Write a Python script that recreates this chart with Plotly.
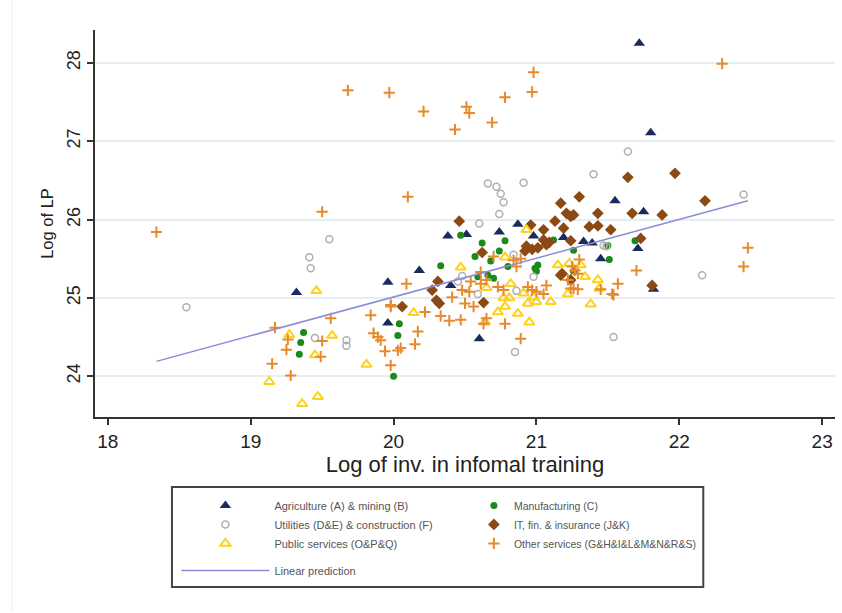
import plotly.graph_objects as go

# ---- data ----
agri_x = [19.32, 19.96, 19.96, 20.38, 20.51, 20.74, 20.87, 20.18, 20.40, 20.60, 20.98, 21.19,
          21.55, 21.75, 21.33, 21.39, 21.71, 21.45, 21.72, 21.80, 21.82]
agri_y = [25.07, 25.20, 24.68, 25.79, 25.81, 25.84, 25.94, 25.35, 25.16, 24.48, 25.79, 25.77,
          26.24, 26.10, 25.72, 25.70, 25.63, 25.50, 28.25, 27.11, 25.11]

manu_x = [19.37, 19.35, 19.34, 20.04, 20.03, 20.00, 20.47, 20.78, 20.62, 20.57, 20.74, 20.68,
          20.33, 20.59, 20.66, 20.70, 20.80, 20.99, 21.01, 21.12, 21.26, 21.00, 21.26, 21.50,
          21.69, 21.51]
manu_y = [24.56, 24.43, 24.28, 24.67, 24.52, 24.00, 25.80, 25.73, 25.70, 25.53, 25.60, 25.47,
          25.41, 25.27, 25.29, 25.25, 25.40, 25.38, 25.42, 25.74, 25.61, 25.34, 25.34, 25.67,
          25.73, 25.49]

util_x = [18.55, 19.55, 19.41, 19.42, 19.45, 19.67, 19.67, 20.66, 20.72, 20.75, 20.77, 20.74,
          20.91, 20.60, 20.84, 20.59, 20.86, 20.48, 20.45, 20.98, 21.40, 21.64, 21.47, 21.49,
          22.45, 22.16, 21.54, 20.85]
util_y = [24.88, 25.75, 25.52, 25.38, 24.49, 24.46, 24.39, 26.46, 26.42, 26.33, 26.22, 26.07,
          26.47, 25.95, 25.55, 25.05, 25.09, 25.28, 25.21, 25.27, 26.58, 26.87, 25.67, 25.66,
          26.32, 25.29, 24.50, 24.31]

it_x = [20.46, 20.62, 20.31, 20.06, 20.27, 20.30, 20.32, 20.63, 20.93, 20.92, 20.97, 21.01,
        20.96, 21.05, 21.13, 21.19, 21.17, 21.21, 21.24, 21.30, 21.05, 21.09, 21.07, 21.17,
        21.64, 21.26, 21.43, 21.67, 21.88, 21.37, 21.43, 21.52, 21.24, 21.73, 21.18, 21.24,
        21.81, 21.97, 22.18]
it_y = [25.98, 25.58, 25.21, 24.89, 25.10, 24.97, 24.93, 24.94, 25.66, 25.60, 25.62, 25.64,
        25.93, 25.87, 25.98, 25.89, 26.21, 26.08, 26.04, 26.29, 25.74, 25.71, 25.68, 25.29,
        26.54, 26.06, 26.08, 26.08, 26.06, 25.91, 25.92, 25.87, 25.73, 25.76, 25.31, 25.23,
        25.16, 26.59, 26.24]

pub_x = [19.46, 19.27, 19.57, 19.45, 19.13, 19.36, 19.47, 19.81, 20.14, 20.47, 20.78, 20.64,
         20.73, 20.78, 20.81, 20.77, 20.87, 20.95, 20.94, 21.00, 21.10, 20.98, 20.91, 20.65,
         20.82, 20.93, 21.15, 21.31, 21.23, 21.34, 21.43, 21.44, 21.38, 21.22]
pub_y = [25.09, 24.53, 24.52, 24.27, 23.93, 23.65, 23.74, 24.15, 24.81, 25.39, 25.52, 24.69,
         24.82, 24.89, 25.00, 25.00, 24.80, 24.69, 24.93, 24.95, 24.95, 25.01, 25.06, 25.13,
         25.18, 25.87, 25.42, 25.42, 25.44, 25.27, 25.23, 25.12, 24.92, 25.05]

oth_x = [18.34, 19.50, 19.68, 20.10, 19.97, 20.21, 20.51, 20.53, 20.43, 20.69, 20.78, 20.97,
         20.98, 22.30, 19.17, 19.56, 19.84, 19.98, 19.50, 19.49, 19.15, 19.28, 19.26, 19.25,
         19.86, 19.89, 19.91, 19.94, 19.98, 20.03, 20.09, 20.61, 20.70, 19.98, 20.22, 20.17,
         20.15, 20.05, 20.33, 20.39, 20.47, 20.41, 20.50, 20.56, 20.65, 20.63, 20.78, 20.89,
         20.94, 20.97, 21.00, 21.05, 21.07, 20.54, 20.61, 20.65, 20.73, 20.77, 20.48, 20.53,
         20.89, 20.84, 20.86, 21.70, 21.25, 21.27, 21.29, 21.30, 21.57, 21.53, 21.26, 21.22,
         21.45, 22.48, 22.45, 21.24, 21.29, 21.54]
oth_y = [25.84, 26.10, 27.65, 26.29, 27.62, 27.38, 27.44, 27.36, 27.15, 27.24, 27.56, 27.63,
         27.88, 27.99, 24.62, 24.74, 24.78, 24.89, 24.45, 24.25, 24.16, 24.01, 24.47, 24.34,
         24.55, 24.50, 24.46, 24.32, 24.14, 24.33, 25.18, 25.33, 25.53, 24.91, 24.82, 24.57,
         24.41, 24.36, 24.77, 24.71, 24.72, 25.01, 24.93, 24.89, 24.74, 24.67, 24.67, 24.48,
         25.14, 25.10, 25.08, 25.05, 25.16, 25.21, 25.18, 25.23, 25.14, 25.10, 25.10, 25.08,
         25.50, 25.48, 25.40, 25.35, 25.40, 25.35, 25.31, 25.49, 25.18, 25.05, 25.12, 25.23,
         25.11, 25.64, 25.40, 25.12, 25.11, 25.04]

fit_x = [18.34, 22.48]
fit_y = [24.19, 26.24]

x_ticks = [18, 19, 20, 21, 22, 23]
y_ticks = [24, 25, 26, 27, 28]

FONT = "Liberation Sans, Arial, sans-serif"

fig = go.Figure()
fig.add_trace(go.Scatter(x=agri_x, y=agri_y, mode="markers", name="Agriculture (A) & mining (B)",
                         legend="legend",
                         marker=dict(symbol="triangle-up", size=10, color="#1c2b5e")))
fig.add_trace(go.Scatter(x=manu_x, y=manu_y, mode="markers", name="Manufacturing (C)",
                         legend="legend2",
                         marker=dict(symbol="circle", size=7, color="#1a8a1a")))
fig.add_trace(go.Scatter(x=util_x, y=util_y, mode="markers", name="Utilities (D&E) & construction (F)",
                         legend="legend",
                         marker=dict(symbol="circle-open", size=7, color="#b0b0b0",
                                     line=dict(width=1.5, color="#b0b0b0"))))
fig.add_trace(go.Scatter(x=it_x, y=it_y, mode="markers", name="IT, fin. & insurance (J&K)",
                         legend="legend2",
                         marker=dict(symbol="diamond", size=9, color="#8b4a14")))
fig.add_trace(go.Scatter(x=pub_x, y=pub_y, mode="markers", name="Public services (O&P&Q)",
                         legend="legend",
                         marker=dict(symbol="triangle-up-open", size=9, color="#ffd21a",
                                     line=dict(width=2, color="#ffd21a"))))
fig.add_trace(go.Scatter(x=oth_x, y=oth_y, mode="markers", name="Other services (G&H&I&L&M&N&R&S)",
                         legend="legend2",
                         marker=dict(symbol="cross-thin-open", size=8, color="#e8892b",
                                     line=dict(width=2, color="#e8892b"))))
fig.add_trace(go.Scatter(x=fit_x, y=fit_y, mode="lines", name="Linear prediction",
                         legend="legend3",
                         line=dict(color="#8c8cd8", width=1.5)))

leg_common = dict(orientation="v", yanchor="top", xanchor="left", borderwidth=0,
                  bgcolor="rgba(0,0,0,0)", traceorder="normal", tracegroupgap=0)

fig.update_layout(
    width=842, height=613,
    paper_bgcolor="white", plot_bgcolor="white",
    margin=dict(l=95, r=7, t=30, b=196),
    font=dict(family=FONT, color="#222"),
    showlegend=True,
    legend=dict(x=0.110, y=-0.191, itemwidth=88, font=dict(size=11, color="#555"), **leg_common),
    legend2=dict(x=0.512, y=-0.191, itemwidth=30, font=dict(size=10.5, color="#555"), **leg_common),
    legend3=dict(x=0.110, y=-0.359, itemwidth=88, font=dict(size=11, color="#555"), **leg_common),
    shapes=[
        # legend frame
        dict(type="rect", xref="paper", yref="paper", x0=0.104, x1=0.822, y0=-0.439, y1=-0.181,
             line=dict(color="#444", width=2), fillcolor="rgba(0,0,0,0)", layer="below"),
        # faint outer edge of graph region
        dict(type="line", xref="paper", yref="paper", x0=-0.112, x1=-0.112, y0=-0.5, y1=1.08,
             line=dict(color="#e8eff2", width=1)),
    ],
)
fig.update_xaxes(range=[17.91, 23.09], tickvals=x_ticks, showgrid=False, zeroline=False,
                 automargin=False,
                 showline=True, linecolor="#333", linewidth=1.5, ticks="outside", ticklen=6,
                 tickcolor="#333", tickwidth=1.5, tickfont=dict(size=19, color="#222"),
                 title=dict(text="Log of inv. in infomal training", font=dict(size=22, color="#222"), standoff=5))
fig.update_yaxes(range=[23.48, 28.42], tickvals=y_ticks, showgrid=True, gridcolor="#e6eef1",
                 automargin=False,
                 gridwidth=1.5, zeroline=False, showline=True, linecolor="#333", linewidth=1.5,
                 ticks="outside", ticklen=6, tickcolor="#333", tickwidth=1.5, tickangle=-90,
                 tickfont=dict(size=18, color="#222"),
                 title=dict(text="Log of LP", font=dict(size=16.5, color="#222"), standoff=6))

fig.write_html("out.html", config={"displayModeBar": False},
               post_script="document.body.style.margin='0';document.body.style.overflow='hidden';")
